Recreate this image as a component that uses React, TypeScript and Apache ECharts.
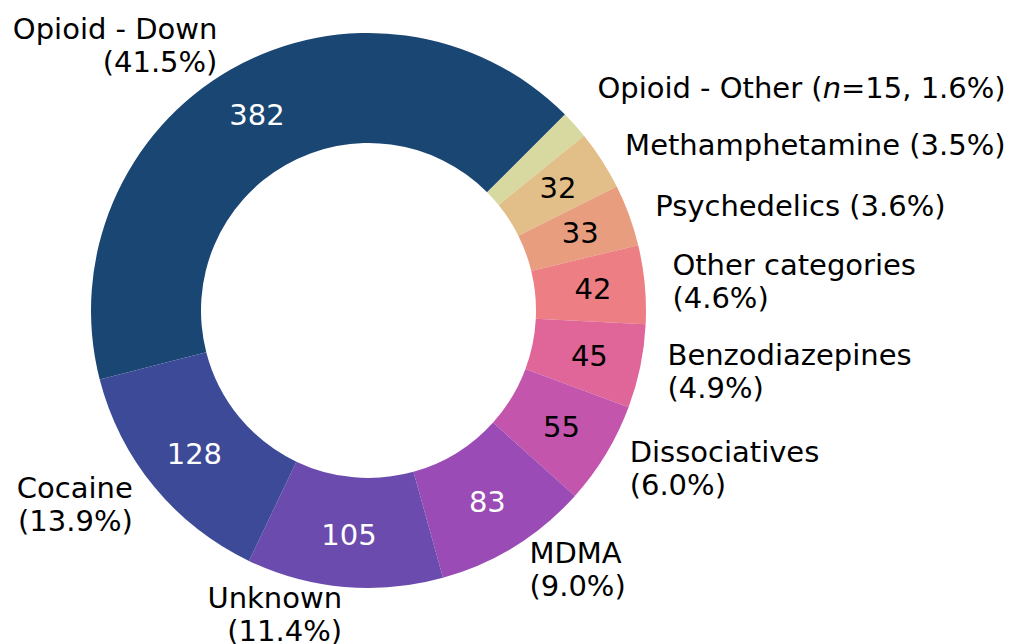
import React, { useEffect, useRef } from "react";
import * as echarts from "echarts";

const categories = [
  "Opioid - Down",
  "Opioid - Other",
  "Methamphetamine",
  "Psychedelics",
  "Other categories",
  "Benzodiazepines",
  "Dissociatives",
  "MDMA",
  "Unknown",
  "Cocaine",
];
const counts = [382, 15, 32, 33, 42, 45, 55, 83, 105, 128];
const sliceColors = [
  "#1a4673",
  "#d8d9a0",
  "#e2bf88",
  "#e89d7e",
  "#ec7e84",
  "#e06598",
  "#c355ad",
  "#9a4bb5",
  "#6b4bad",
  "#3d4a98",
];
// label layout: name and percentage on two lines or on one line
const twoLineLabel = [true, false, false, false, true, true, true, true, true, true];

const FONT = "DejaVu Sans";
const FS = 29;

function isDark(hex: string) {
  const r = parseInt(hex.slice(1, 3), 16);
  const g = parseInt(hex.slice(3, 5), 16);
  const b = parseInt(hex.slice(5, 7), 16);
  return 0.299 * r + 0.587 * g + 0.114 * b < 120;
}

export default function App() {
  const ref = useRef<HTMLDivElement>(null);
  useEffect(() => {
    if (!ref.current) return;
    const chart = echarts.init(ref.current, undefined, { renderer: "svg" });
    const total = counts.reduce((a, b) => a + b, 0);
    const R = 277.5;
    const r0 = 167.5;
    const center = [368.5, 310.5];
    const startAngle = 194.4;

    const insideData = categories.map((name, i) => ({
      name,
      value: counts[i],
      itemStyle: { color: sliceColors[i] },
      label: {
        show: counts[i] >= 20,
        color: isDark(sliceColors[i]) ? "#ffffff" : "#000000",
      },
    }));
    const outsideData = categories.map((name, i) => ({
      name,
      value: counts[i],
    }));

    chart.setOption({
      animation: false,
      backgroundColor: "#ffffff",
      series: [
        {
          type: "pie",
          silent: true,
          radius: [r0, R],
          center,
          startAngle,
          clockwise: true,
          avoidLabelOverlap: false,
          itemStyle: { borderWidth: 0 },
          emphasis: { disabled: true },
          label: {
            position: "inside",
            formatter: "{c}",
            fontSize: FS,
            fontFamily: FONT,
          },
          labelLine: { show: false },
          data: insideData,
        },
        {
          type: "pie",
          silent: true,
          radius: [r0, R],
          center,
          startAngle,
          clockwise: true,
          avoidLabelOverlap: false,
          itemStyle: { color: "rgba(0,0,0,0)", borderWidth: 0 },
          emphasis: { disabled: true },
          label: {
            show: true,
            position: "outside",
            distanceToLabelLine: 0,
            fontSize: FS,
            fontFamily: FONT,
            color: "#000000",
            lineHeight: 33,
            formatter: (p: any) => {
              const i = p.dataIndex;
              const pct = ((counts[i] / total) * 100).toFixed(1);
              if (i === 1) {
                return `${categories[i]} ({it|n}=${counts[i]}, ${pct}%)`;
              }
              return twoLineLabel[i]
                ? `${categories[i]}\n(${pct}%)`
                : `${categories[i]} (${pct}%)`;
            },
            rich: {
              it: {
                fontStyle: "italic",
                fontSize: FS,
                fontFamily: FONT,
                color: "#000000",
                lineHeight: 33,
              },
            },
          },
          labelLine: { show: false, length: R * 0.1, length2: 0 },
          labelLayout: (params: any) =>
            params.dataIndex === 1 ? { dx: 2, dy: -18 } : {},
          data: outsideData,
        },
      ],
    });
    return () => chart.dispose();
  }, []);
  return (
    <div
      ref={ref}
      style={{ position: "absolute", left: 0, top: 0, width: 1021, height: 644 }}
    />
  );
}
